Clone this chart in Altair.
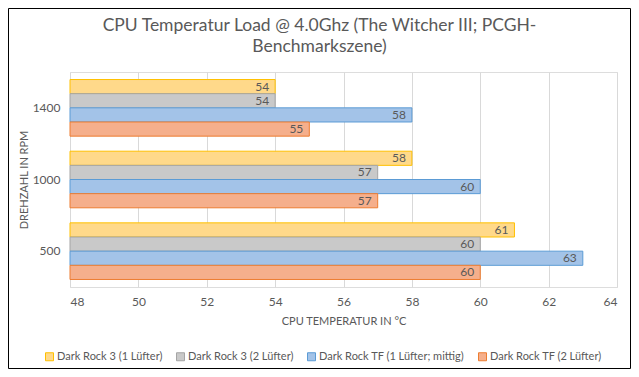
import altair as alt
import pandas as pd

# ---- data ----
categories = ["1400", "1000", "500"]
series = [
    "Dark Rock 3 (1 Lüfter)",
    "Dark Rock 3 (2 Lüfter)",
    "Dark Rock TF (1 Lüfter; mittig)",
    "Dark Rock TF (2 Lüfter)",
]
values_dr3_1 = [54, 58, 61]
values_dr3_2 = [54, 57, 60]
values_tf_1 = [58, 60, 63]
values_tf_2 = [55, 57, 60]
x_ticks = [48, 50, 52, 54, 56, 58, 60, 62, 64]
x_min, x_max = 48, 64

fill_colors = ["#FFD98A", "#C9C9C9", "#A3C3E8", "#F5AF8C"]
stroke_colors = ["#FFC000", "#A5A5A5", "#5B9BD5", "#ED7D31"]

all_values = [values_dr3_1, values_dr3_2, values_tf_1, values_tf_2]
rows = []
for s, vals in zip(series, all_values):
    for c, v in zip(categories, vals):
        rows.append({"Drehzahl": c, "Serie": s, "Temp": v})
df = pd.DataFrame(rows)

FONT = "Lato"
TXT = "#595959"
W, H = 547, 215
PAD = {"left": 62, "top": 64, "right": 14, "bottom": 82}

x_enc = alt.X(
    "Temp:Q",
    scale=alt.Scale(domain=[x_min, x_max], nice=False, zero=False),
    axis=alt.Axis(
        values=x_ticks, title="CPU TEMPERATUR IN °C", grid=True, gridColor="#D9D9D9",
        domain=False, ticks=False, labelPadding=9, titlePadding=8,
        labelFontSize=12, titleFontSize=11, labelColor=TXT, titleColor=TXT,
        labelFont=FONT, titleFont=FONT, titleFontWeight="normal",
    ),
)
y_enc = alt.Y(
    "Drehzahl:N",
    sort=categories,
    scale=alt.Scale(paddingInner=0.21, paddingOuter=0.105),
    axis=alt.Axis(
        title="DREHZAHL IN RPM", domain=False, ticks=False, grid=False,
        labelPadding=10, titlePadding=3, labelFontSize=12, titleFontSize=11,
        labelColor=TXT, titleColor=TXT, labelFont=FONT, titleFont=FONT,
        titleFontWeight="normal",
    ),
)
yoff = alt.YOffset("Serie:N", sort=series, scale=alt.Scale(paddingInner=0, paddingOuter=0))

legend = alt.Legend(
    title=None, orient="none", legendX=-26, legendY=279, direction="horizontal",
    symbolType="square", symbolSize=64, labelFontSize=11, labelColor=TXT,
    labelFont=FONT, columnPadding=11, symbolStrokeWidth=1, labelLimit=400,
    labelOffset=2,
)

base = alt.Chart(df)

bars = base.mark_bar(strokeWidth=1).encode(
    x=x_enc,
    x2=alt.datum(x_min),
    y=y_enc,
    yOffset=yoff,
    fill=alt.Fill("Serie:N", sort=series, scale=alt.Scale(domain=series, range=fill_colors), legend=legend),
    stroke=alt.Stroke("Serie:N", sort=series, scale=alt.Scale(domain=series, range=stroke_colors), legend=legend),
)

labels = base.mark_text(align="right", baseline="middle", dx=-6, fontSize=12, font=FONT, color=TXT).encode(
    x=alt.X("Temp:Q"),
    y=alt.Y("Drehzahl:N", sort=categories),
    yOffset=alt.YOffset("Serie:N", sort=series),
    text=alt.Text("Temp:Q"),
)

frame = alt.Chart(pd.DataFrame({"k": [0]})).mark_rect(
    fill="white", fillOpacity=0, stroke="#000000", strokeWidth=1
).encode(
    x=alt.value(-PAD["left"] + 0.5),
    x2=alt.value(W + PAD["right"] - 0.5),
    y=alt.value(-PAD["top"] + 0.5),
    y2=alt.value(H + PAD["bottom"] - 0.5),
)

chart = alt.layer(bars, labels, frame).properties(
    width=W,
    height=H,
    autosize=alt.AutoSizeParams(type="none"),
    padding=PAD,
    title=alt.TitleParams(
        text=["CPU Temperatur Load @ 4.0Ghz (The Witcher III; PCGH-", "Benchmarkszene)"],
        font=FONT, fontSize=17.5, fontWeight="normal", color=TXT,
        anchor="middle", dx=-24, offset=-47, lineHeight=21,
    ),
).configure_view(stroke=None).configure(background="white")

chart.save("out.html", embed_options={"renderer": "svg", "actions": False})
